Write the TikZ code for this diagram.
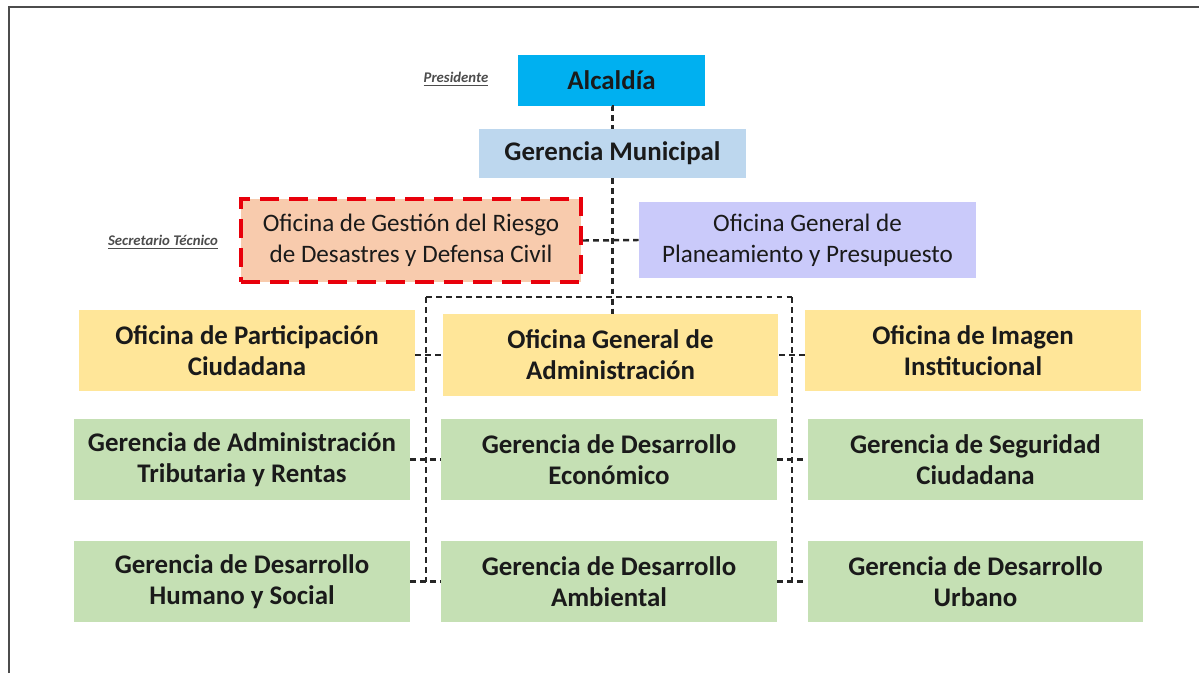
\documentclass[tikz,border=0pt]{standalone}
\usepackage{fontspec}
\setmainfont{Carlito}
\definecolor{cAlc}{HTML}{00B0F0}
\definecolor{cGM}{HTML}{BDD7EE}
\definecolor{cPeach}{HTML}{F8CBAD}
\definecolor{cLav}{HTML}{CACAFA}
\definecolor{cYel}{HTML}{FFE699}
\definecolor{cGrn}{HTML}{C5E0B4}
\definecolor{cTxt}{HTML}{1A1A1A}
\definecolor{cRed}{HTML}{E8000B}
\definecolor{cLine}{HTML}{262626}
\tikzset{
  box/.style={inner sep=0pt, align=center, text=cTxt,
    font=\fontsize{15.3}{17.5}\selectfont\bfseries},
  wide/.style={minimum width=6.72cm, minimum height=1.62cm},
  dl/.style={draw=cLine, line width=1.4pt, dash pattern=on 3.4pt off 2.3pt},
  role/.style={font=\fontsize{8.4}{10}\selectfont\bfseries\itshape, text=black!70, inner sep=0pt}
}
\begin{document}
\begin{tikzpicture}[x=0.02cm,y=-0.02cm]
\useasboundingbox (0,0) rectangle (1199,673);
\draw[line width=1.3pt, black!70] (9,673) -- (9,7) -- (1199,7);

\node[box, fill=cAlc, minimum width=3.74cm, minimum height=1.02cm] (alc) at (611.5,80.5) {Alcaldía};
\node[box, fill=cGM, minimum width=5.34cm, minimum height=0.98cm] (gm) at (612.5,153.5) {Gerencia Municipal};
\node[box, fill=cPeach, minimum width=6.8cm, minimum height=1.66cm,
      draw=cRed, line width=2.3pt, dash pattern=on 11pt off 5.5pt,
      font=\fontsize{14.3}{17.5}\selectfont] (ogr) at (411,240.5)
      {Oficina de Gestión del Riesgo\\de Desastres y Defensa Civil};
\node[box, fill=cLav, minimum width=6.74cm, minimum height=1.52cm,
      font=\fontsize{14.3}{17.5}\selectfont] (ogpp) at (807.5,240)
      {Oficina General de\\Planeamiento y Presupuesto};

\node[box, wide, fill=cYel] (r1l) at (247,350.5) {Oficina de Participación\\Ciudadana};
\node[box, wide, fill=cYel, minimum height=1.64cm] (r1m) at (610.5,355) {Oficina General de\\Administración};
\node[box, wide, fill=cYel] (r1r) at (973,350.5) {Oficina de Imagen\\Institucional};

\node[box, wide, fill=cGrn] (r2l) at (242,459.5) {Gerencia de Administración\\Tributaria y Rentas};
\node[box, wide, fill=cGrn] (r2m) at (609,459.5) {Gerencia de Desarrollo\\Económico};
\node[box, wide, fill=cGrn] (r2r) at (975.5,459.5) {Gerencia de Seguridad\\Ciudadana};

\node[box, wide, fill=cGrn] (r3l) at (242,581.5) {Gerencia de Desarrollo\\Humano y Social};
\node[box, wide, fill=cGrn] (r3m) at (609,581.5) {Gerencia de Desarrollo\\Ambiental};
\node[box, wide, fill=cGrn] (r3r) at (975.5,581.5) {Gerencia de Desarrollo\\Urbano};

\node[role] (pres) at (456,79) {\underline{Presidente}};
\node[role] (sec) at (163,242) {\underline{Secretario Técnico}};

\coordinate (bl) at (426,297);
\coordinate (br) at (792,297);
\coordinate (bl3) at (426,582);
\coordinate (br3) at (792,582);

\draw[dl] (alc.south) -- (gm.south |- alc.south) -- (gm.north);
\draw[dl] (gm.south) -- (gm.south |- r1m.north);
\draw[dl] (ogr.east) -- (ogpp.west);
\draw[dl] (bl) -- (br);
\draw[dl] (bl) -- (bl3);
\draw[dl] (br) -- (br3);
\draw[dl] (r1l.east |- r1m.west) -- (r1m.west);
\draw[dl] (r2l.east) -- (r2m.west);
\draw[dl] (r3l.east) -- (r3m.west);
\draw[dl] (r1m.east) -- (r1r.west |- r1m.east);
\draw[dl] (r2m.east) -- (r2r.west);
\draw[dl] (r3m.east) -- (r3r.west);
\end{tikzpicture}
\end{document}
